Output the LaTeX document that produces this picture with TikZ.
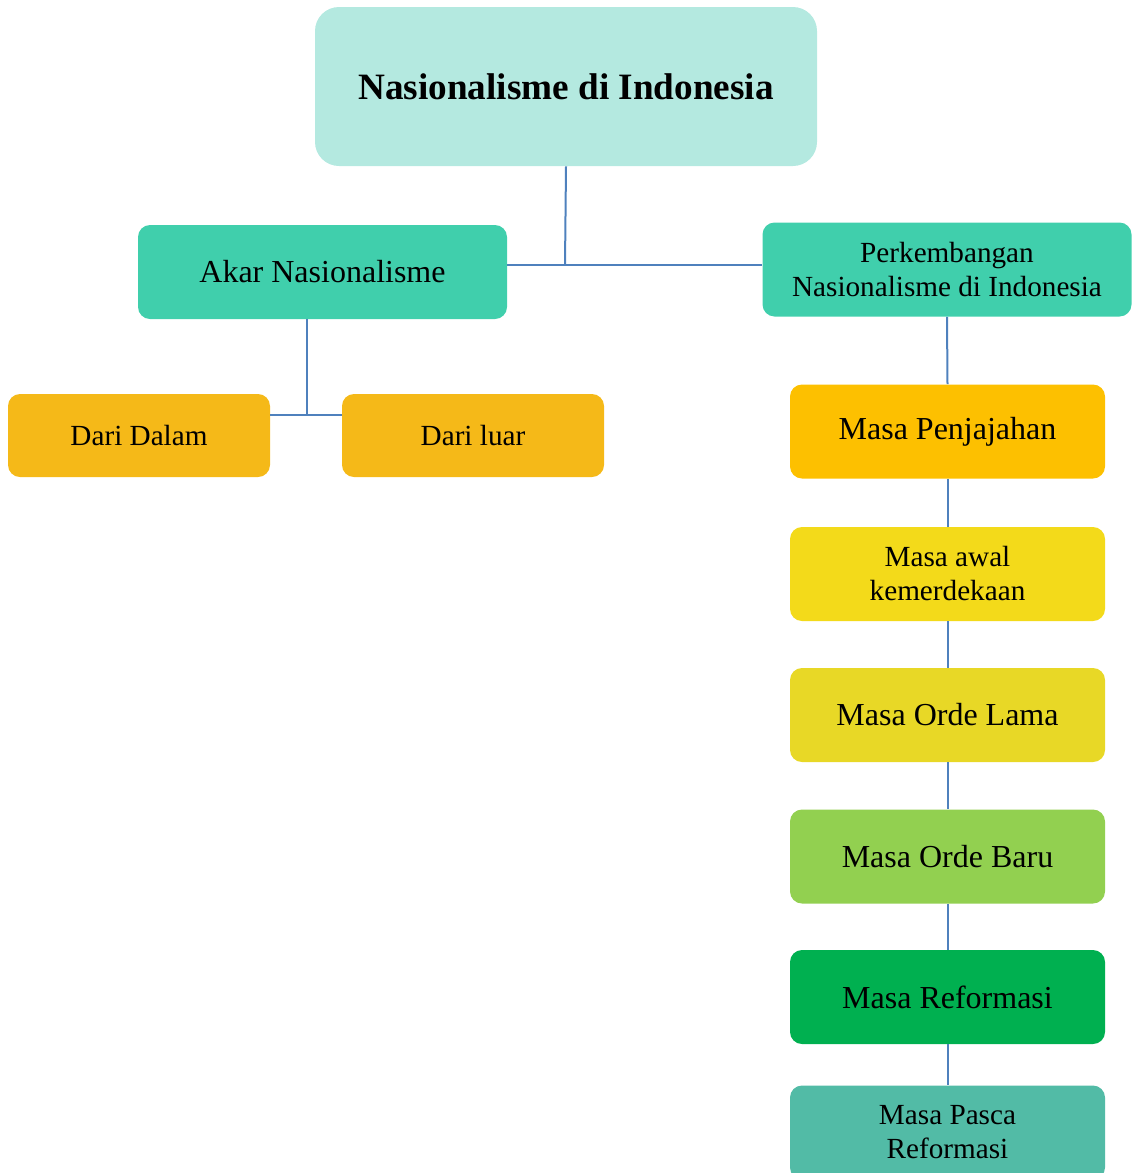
\documentclass[tikz,border=0pt]{standalone}
\usepackage{fontspec}
\setmainfont{Liberation Serif}
\definecolor{rootfill}{HTML}{B4E9E0}
\definecolor{tealfill}{HTML}{40CFAC}
\definecolor{darifill}{HTML}{F5B918}
\definecolor{penjfill}{HTML}{FDC000}
\definecolor{awalfill}{HTML}{F3DA1A}
\definecolor{lamafill}{HTML}{E8D826}
\definecolor{barufill}{HTML}{92D050}
\definecolor{reffill}{HTML}{00B050}
\definecolor{pascafill}{HTML}{52BBA6}
\definecolor{linkblue}{HTML}{4F81BD}
\begin{document}
\begin{tikzpicture}[
  x=0.5pt, y=-0.5pt,
  every node/.style={rectangle, align=center, inner sep=0pt, text=black, rounded corners=6pt},
  bigfont/.style={font=\fontsize{16}{19}\selectfont},
  smallfont/.style={font=\fontsize{14.6}{17}\selectfont},
  rootbox/.style={fill=rootfill, rounded corners=12pt, minimum width=251pt, minimum height=79.5pt, font=\fontsize{18.6}{22}\selectfont\bfseries},
  akarbox/.style={fill=tealfill, minimum width=184.5pt, minimum height=47pt},
  daribox/.style={fill=darifill, smallfont, minimum width=131pt, minimum height=41.5pt},
  masabox/.style={minimum width=157.5pt, minimum height=47pt},
  link/.style={draw=linkblue, line width=1pt}
]
\useasboundingbox (0,0) rectangle (1131,1173);

% Root
\node[rootbox] (root) at (566,86.5) {Nasionalisme di Indonesia};

% Level 1
\node[akarbox, bigfont] (akar) at (322.5,272) {Akar Nasionalisme};
\node[akarbox, smallfont] (perk) at (947,269.5) {Perkembangan\\Nasionalisme di Indonesia};

% Akar children
\node[daribox] (dalam) at (139,435.5) {Dari Dalam};
\node[daribox] (luar) at (473,435.5) {Dari luar};

% Perkembangan chain
\node[masabox, fill=penjfill, bigfont] (penj) at (947.5,431.5) {Masa Penjajahan};
\node[masabox, fill=awalfill, smallfont] (awal) at (947.5,574) {Masa awal\\kemerdekaan};
\node[masabox, fill=lamafill, bigfont] (lama) at (947.5,715) {Masa Orde Lama};
\node[masabox, fill=barufill, bigfont] (baru) at (947.5,856.5) {Masa Orde Baru};
\node[masabox, fill=reffill, bigfont] (reform) at (947.5,997) {Masa Reformasi};
\node[masabox, fill=pascafill, smallfont] (pasca) at (947.5,1132.5) {Masa Pasca\\Reformasi};

% Connectors
\coordinate (hub) at (565,265);
\coordinate (akarhub) at (307,415);
\draw[link] (root.south) -- (hub);
\draw[link] (akar.east |- hub) -- (perk.west |- hub);
\draw[link] (akarhub |- akar.south) -- (akarhub);
\draw[link] (dalam.east |- akarhub) -- (luar.west |- akarhub);
\draw[link] (perk.south) -- (penj.north);
\draw[link] (penj.south) -- (awal.north);
\draw[link] (awal.south) -- (lama.north);
\draw[link] (lama.south) -- (baru.north);
\draw[link] (baru.south) -- (reform.north);
\draw[link] (reform.south) -- (pasca.north);

\end{tikzpicture}
\end{document}
